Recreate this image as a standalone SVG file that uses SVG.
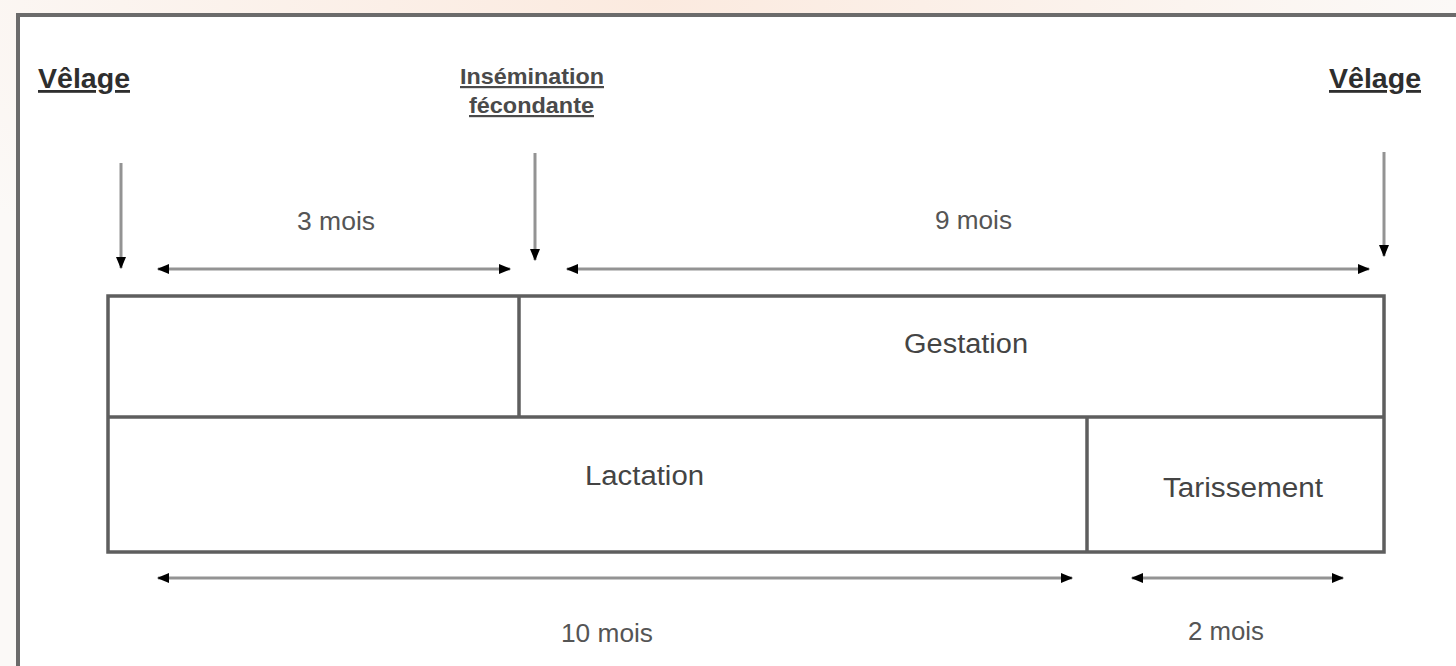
<svg xmlns="http://www.w3.org/2000/svg" width="1456" height="666" viewBox="0 0 1456 666">
  <defs>
    <radialGradient id="bg" cx="0.45" cy="0" r="0.55">
      <stop offset="0" stop-color="#fbeadf"/>
      <stop offset="1" stop-color="#fbf9f7"/>
    </radialGradient>
    <marker id="ah" viewBox="0 0 12 12" refX="11" refY="6" markerWidth="12" markerHeight="12" markerUnits="userSpaceOnUse" orient="auto-start-reverse">
      <path d="M0,1 L12,6 L0,11 Z" fill="#000"/>
    </marker>
    <style>
      .frame { fill: #fff; stroke: #6b6b6b; stroke-width: 4; }
      .box { fill: none; stroke: #5e5e5e; stroke-width: 3.5; }
      .arr { stroke: #939393; stroke-width: 3; fill: none; }
      .v { marker-end: url(#ah); }
      .h { marker-start: url(#ah); marker-end: url(#ah); }
      .t { font-family: "Liberation Sans", Arial, sans-serif; text-anchor: middle; }
      .head { font-weight: bold; fill: #2e2e2e; font-size: 28px; text-decoration: underline; }
      .ins { font-weight: bold; fill: #4a4a4a; font-size: 22px; text-decoration: underline; }
      .lbl { fill: #444; font-size: 27px; }
      .dur { fill: #555; font-size: 26px; }
    </style>
  </defs>
  <rect x="0" y="0" width="1456" height="666" fill="url(#bg)"/>
  <rect class="frame" x="18" y="15" width="1470" height="700"/>

  <g id="velage-left">
    <text class="t head" x="84" y="88" textLength="92" lengthAdjust="spacingAndGlyphs">Vêlage</text>
  </g>
  <g id="insemination">
    <text class="t ins" x="532" y="84" textLength="144" lengthAdjust="spacingAndGlyphs">Insémination</text>
    <text class="t ins" x="531.5" y="113" textLength="125" lengthAdjust="spacingAndGlyphs">fécondante</text>
  </g>
  <g id="velage-right">
    <text class="t head" x="1375" y="88" textLength="92" lengthAdjust="spacingAndGlyphs">Vêlage</text>
  </g>

  <g id="box">
    <rect class="box" x="108" y="296" width="1276" height="256"/>
    <line class="box" x1="108" y1="417" x2="1384" y2="417"/>
    <line class="box" x1="519" y1="296" x2="519" y2="417"/>
    <line class="box" x1="1087" y1="417" x2="1087" y2="552"/>
  </g>
  <g id="gestation">
    <text class="t lbl" x="966" y="353" textLength="124" lengthAdjust="spacingAndGlyphs">Gestation</text>
  </g>
  <g id="lactation">
    <text class="t lbl" x="644.5" y="485" textLength="119" lengthAdjust="spacingAndGlyphs">Lactation</text>
  </g>
  <g id="tarissement">
    <text class="t lbl" x="1243" y="497" textLength="160" lengthAdjust="spacingAndGlyphs">Tarissement</text>
  </g>

  <g id="durations">
    <text class="t dur" x="336" y="230" textLength="78" lengthAdjust="spacingAndGlyphs">3 mois</text>
    <text class="t dur" x="973.5" y="229" textLength="77" lengthAdjust="spacingAndGlyphs">9 mois</text>
    <text class="t dur" x="607" y="642" textLength="92" lengthAdjust="spacingAndGlyphs">10 mois</text>
    <text class="t dur" x="1226" y="640" textLength="76" lengthAdjust="spacingAndGlyphs">2 mois</text>
  </g>

  <g id="connectors">
    <line class="arr v" x1="121" y1="163" x2="121" y2="268"/>
    <line class="arr v" x1="535" y1="153" x2="535" y2="260"/>
    <line class="arr v" x1="1384" y1="152" x2="1384" y2="256"/>
    <line class="arr h" x1="158" y1="269" x2="510" y2="269"/>
    <line class="arr h" x1="567" y1="269" x2="1369" y2="269"/>
    <line class="arr h" x1="158" y1="578" x2="1072" y2="578"/>
    <line class="arr h" x1="1132" y1="578" x2="1343" y2="578"/>
  </g>
</svg>
